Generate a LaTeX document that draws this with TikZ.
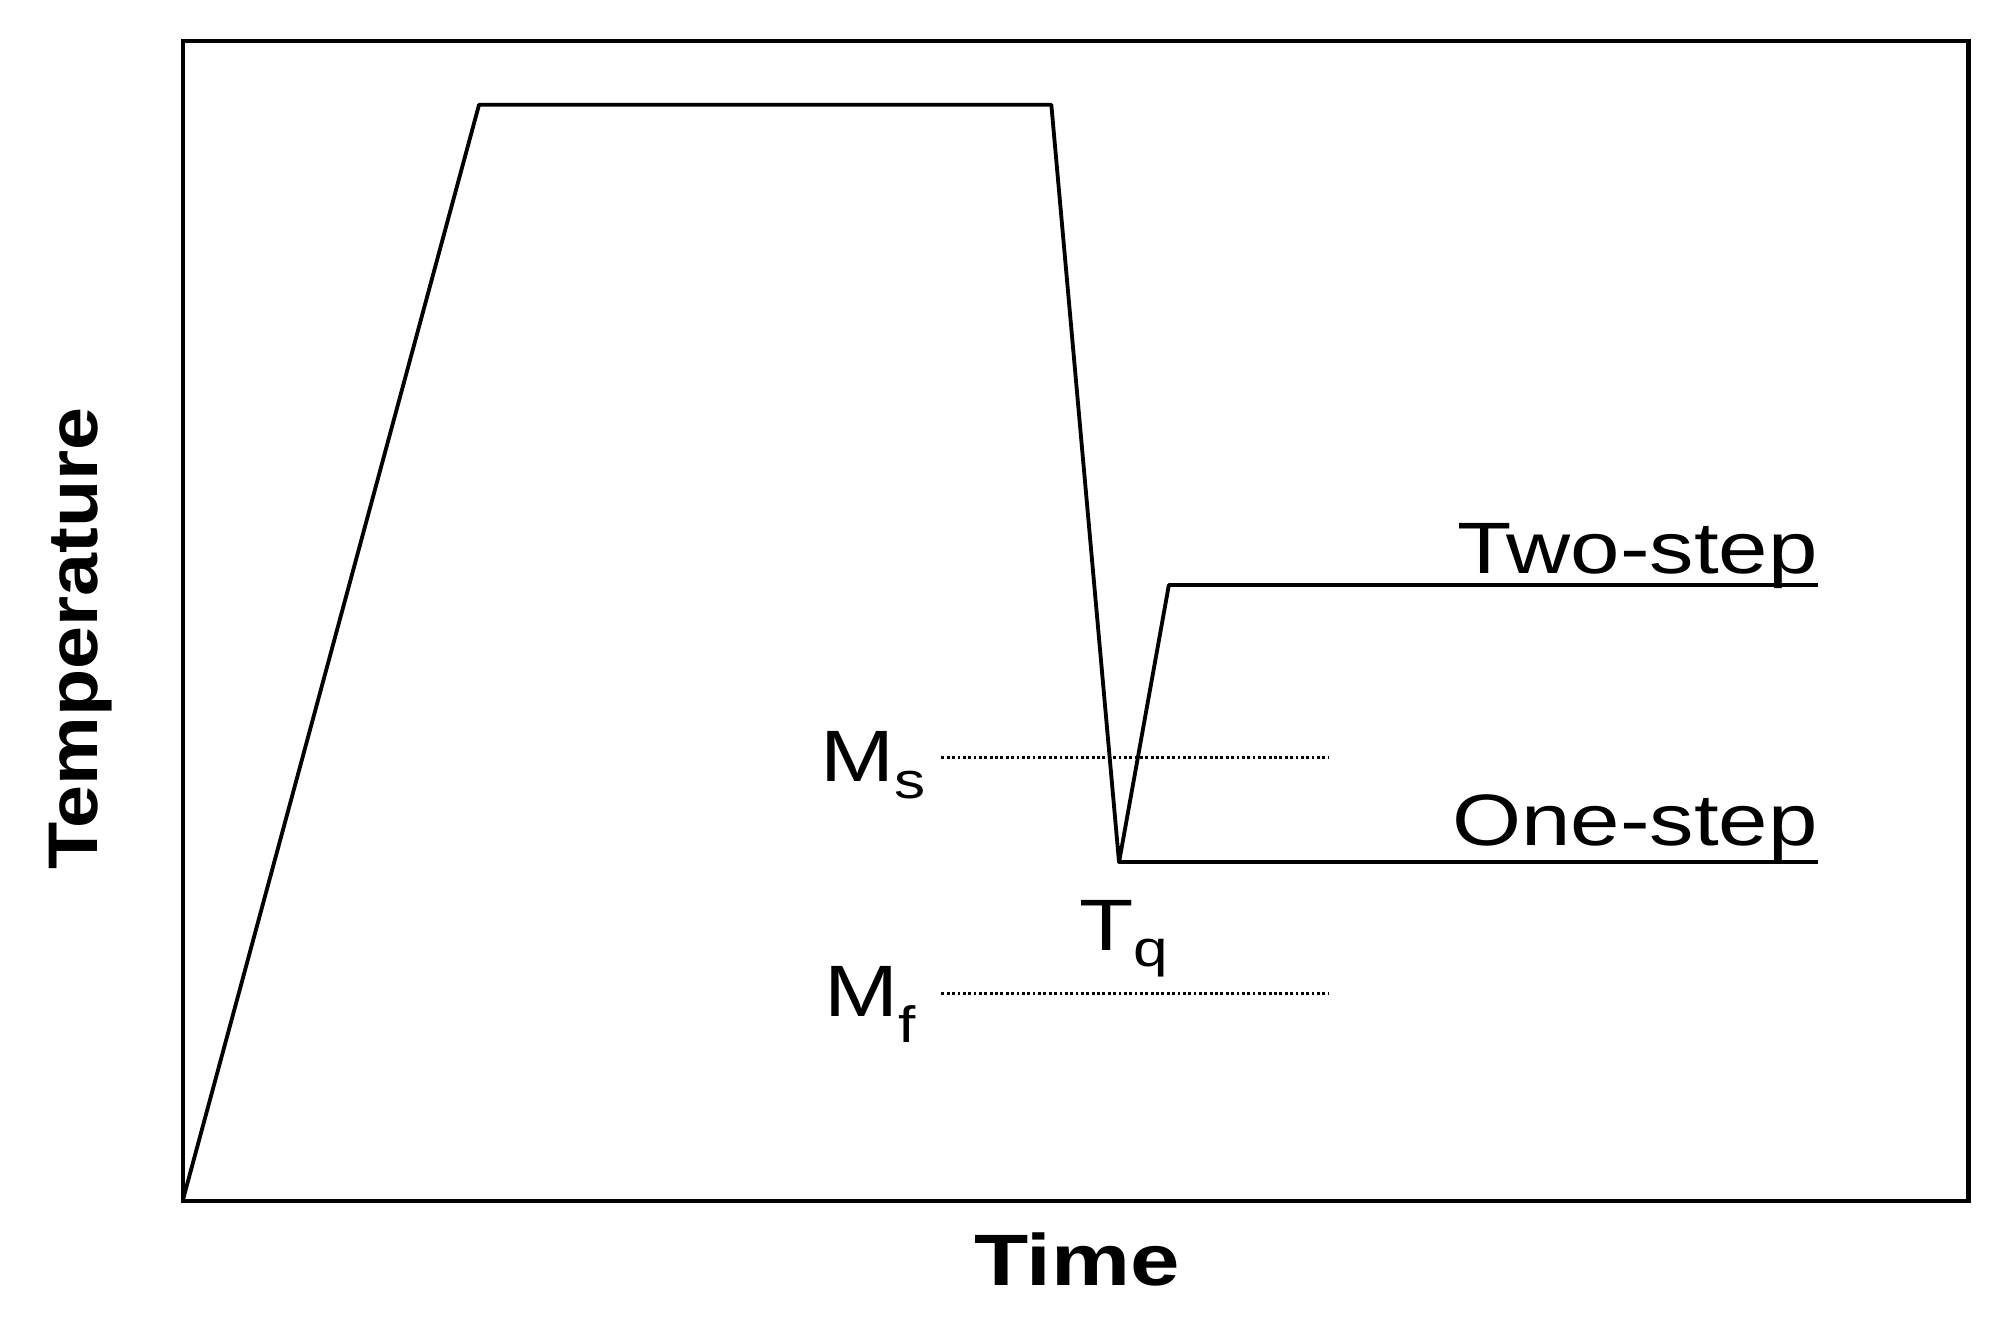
\documentclass[tikz,border=0pt]{standalone}
\usepackage{fontspec}
\usepackage{graphicx}
\setmainfont{Liberation Sans}
\newcommand{\wide}[1]{\scalebox{1.22}[1]{#1}}
\begin{document}
\begin{tikzpicture}[x=1pt,y=-1pt,
  curve/.style={line width=3pt,line join=round},
  lvl/.style={line width=2.2pt,dotted},
  lab/.style={font=\fontsize{57}{60}\selectfont,inner sep=0pt}]
\useasboundingbox (0,0) rectangle (1568,1032);
\draw[line width=3.2pt] (143,32) rectangle (1541,940);
\coordinate (o) at (143,940);
\coordinate (a) at (375,82);
\coordinate (b) at (823,82);
\coordinate (q) at (876,675);
\coordinate (c) at (915,458);
\coordinate (d) at (1423,458);
\coordinate (e) at (1423,675);
\draw[curve] (o) -- (a) -- (b) -- (q) -- (c) -- (d);
\draw[curve] (q) -- (e);
\coordinate (ms1) at (737,593); \coordinate (ms2) at (1040,593);
\coordinate (mf1) at (737,778); \coordinate (mf2) at (1040,778);
\draw[lvl] (ms1) -- (ms2);
\draw[lvl] (mf1) -- (mf2);
\node[lab,anchor=base east] (two) at (1423,449) {\wide{Two-step}};
\node[lab,anchor=base east] (one) at (1423,662) {\wide{One-step}};
\node[lab,anchor=base east] (ms) at (725,612) {\wide{M\textsubscript{s}}};
\node[lab,anchor=base east] (mf) at (718,796) {\wide{M\textsubscript{f}}};
\node[lab,anchor=base] (tq) at (880,744) {\wide{T\textsubscript{q}}};
\node[lab,font=\fontsize{57}{60}\selectfont\bfseries,anchor=base] (time) at (843,1006) {\wide{Time}};
\node[lab,font=\fontsize{55}{60}\selectfont\bfseries,rotate=90,anchor=base] (temp) at (76,500) {\scalebox{1.1}[1]{Temperature}};
\end{tikzpicture}
\end{document}
